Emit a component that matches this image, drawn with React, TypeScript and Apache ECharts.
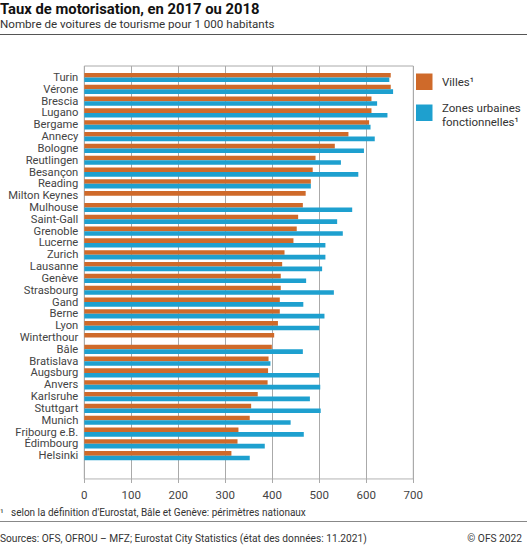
import React, { useEffect, useRef } from "react";
import * as echarts from "echarts";

const cities = [
  "Turin", "Vérone", "Brescia", "Lugano", "Bergame", "Annecy", "Bologne", "Reutlingen",
  "Besançon", "Reading", "Milton Keynes", "Mulhouse", "Saint-Gall", "Grenoble", "Lucerne",
  "Zurich", "Lausanne", "Genève", "Strasbourg", "Gand", "Berne", "Lyon", "Winterthour",
  "Bâle", "Bratislava", "Augsburg", "Anvers", "Karlsruhe", "Stuttgart", "Munich",
  "Fribourg e.B.", "Édimbourg", "Helsinki",
];

const villes = [
  652, 652, 611, 611, 606, 562, 533, 492, 486, 482, 471, 465, 455, 452, 445, 426, 421,
  418, 418, 416, 416, 412, 404, 399, 392, 391, 390, 369, 355, 352, 328, 326, 313,
];

const zonesUrbaines = [
  649, 657, 623, 645, 609, 618, 595, 546, 583, 482, null, 570, 538, 550, 513, 513, 506,
  472, 531, 466, 511, 500, null, 465, 396, 500, 502, 480, 503, 439, 467, 384, 352,
];

const xTicks = { min: 0, max: 700, interval: 100 };

const seriesNames = ["Villes¹", "Zones urbaines\nfonctionnelles¹"];
const colors = ["#cf6a2a", "#1ea0cf"];

const FONT = "Roboto, 'Noto Sans', sans-serif";

export default function App() {
  const ref = useRef<HTMLDivElement>(null);

  useEffect(() => {
    document.body.style.margin = "0";
    const chart = echarts.init(ref.current!, null, { renderer: "svg" });
    const gl = 84.3;
    const gw = 329;
    const option: any = {
      animation: false,
      textStyle: { fontFamily: FONT },
      grid: [
        { left: gl, width: gw, top: 66, height: 413, show: true, borderColor: "#aaaaaa", borderWidth: 1 },
        { left: gl, width: gw, top: 71.6, height: 390 },
      ],
      xAxis: [
        {
          gridIndex: 0,
          type: "value",
          min: xTicks.min,
          max: xTicks.max,
          interval: xTicks.interval,
          axisLine: { show: true, lineStyle: { color: "#dddddd", width: 1 } },
          axisTick: { show: true, length: 4, lineStyle: { color: "#aaaaaa" } },
          splitLine: { show: true, lineStyle: { color: "#aaaaaa", width: 1 } },
          axisLabel: { color: "#444", fontSize: 11.5, fontFamily: FONT, margin: 10 },
        },
        {
          gridIndex: 1,
          type: "value",
          min: xTicks.min,
          max: xTicks.max,
          show: false,
        },
      ],
      yAxis: [
        { gridIndex: 0, type: "value", show: false, min: 0, max: 1 },
        {
          gridIndex: 1,
          type: "category",
          inverse: true,
          data: cities,
          axisLine: { show: false },
          axisTick: { show: false },
          splitLine: { show: false },
          axisLabel: { color: "#444", fontSize: 11.2, lineHeight: 11, fontFamily: FONT, margin: 6, interval: 0 },
        },
      ],
      series: [
        {
          name: seriesNames[0],
          type: "bar",
          xAxisIndex: 1,
          yAxisIndex: 1,
          data: villes,
          barWidth: 4.6,
          barGap: "0%",
          itemStyle: { color: colors[0] },
        },
        {
          name: seriesNames[1],
          type: "bar",
          xAxisIndex: 1,
          yAxisIndex: 1,
          data: zonesUrbaines,
          barWidth: 4.6,
          barGap: "0%",
          itemStyle: { color: colors[1] },
        },
      ],
      graphic: [
        {
          type: "text", left: 0, top: 1,
          style: { text: "Taux de motorisation, en 2017 ou 2018", fill: "#111", font: `bold 14.8px ${FONT}` },
        },
        {
          type: "text", left: 0, top: 18,
          style: { text: "Nombre de voitures de tourisme pour 1 000 habitants", fill: "#333", font: `11.6px ${FONT}` },
        },
        { type: "line", shape: { x1: 0, y1: 34.5, x2: 527, y2: 34.5 }, style: { stroke: "#555", lineWidth: 1 } },
        { type: "rect", shape: { x: 416, y: 73.5, width: 16.5, height: 16.5 }, style: { fill: colors[0] } },
        { type: "rect", shape: { x: 416, y: 104.5, width: 16.5, height: 16.5 }, style: { fill: colors[1] } },
        {
          type: "text", x: 442, y: 82,
          style: { text: seriesNames[0], fill: "#333", font: `11.5px ${FONT}`, verticalAlign: "middle" },
        },
        {
          type: "text", x: 442, y: 114.5,
          style: { text: seriesNames[1], fill: "#333", font: `11.5px ${FONT}`, verticalAlign: "middle", lineHeight: 14 },
        },
        {
          type: "text", x: 0, y: 512,
          style: { text: "¹", fill: "#333", font: `10px ${FONT}`, verticalAlign: "middle" },
        },
        {
          type: "text", x: 11, y: 512,
          style: { text: "selon la définition d'Eurostat, Bâle et Genève: périmètres nationaux", fill: "#333", font: `10px ${FONT}`, verticalAlign: "middle" },
        },
        { type: "line", shape: { x1: 0, y1: 521.5, x2: 527, y2: 521.5 }, style: { stroke: "#888", lineWidth: 1 } },
        {
          type: "text", x: 0, y: 538,
          style: { text: "Sources: OFS, OFROU – MFZ; Eurostat City Statistics (état des données: 11.2021)", fill: "#333", font: `10.2px ${FONT}`, verticalAlign: "middle" },
        },
        {
          type: "text", x: 522, y: 538,
          style: { text: "© OFS 2022", fill: "#333", font: `10.2px ${FONT}`, verticalAlign: "middle", align: "right" },
        },
      ],
    };
    chart.setOption(option);
    return () => chart.dispose();
  }, []);

  return <div ref={ref} style={{ width: 527, height: 545 }} />;
}
